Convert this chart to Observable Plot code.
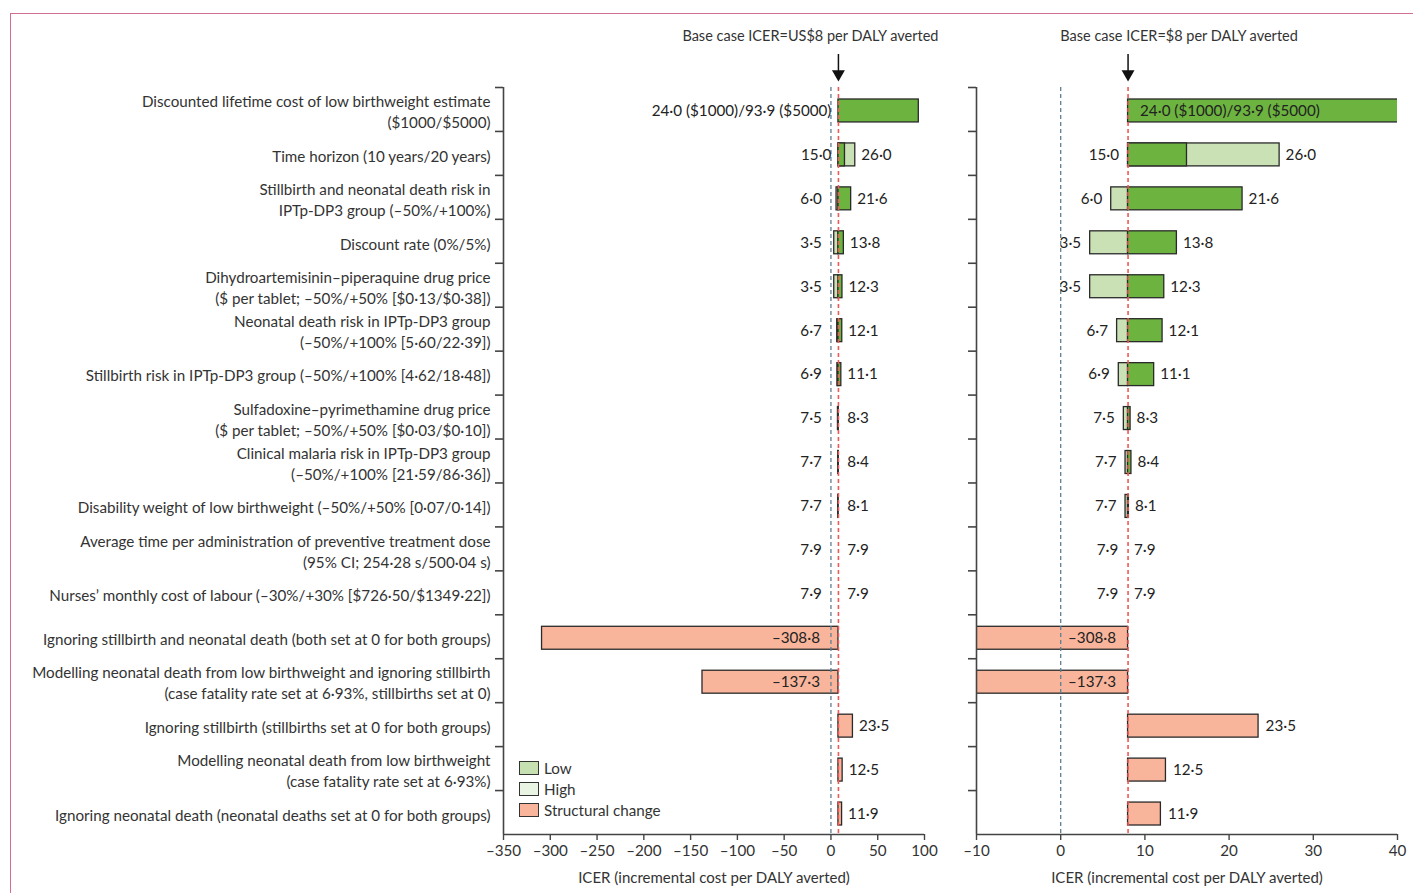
<!DOCTYPE html>
<html><head><meta charset="utf-8">
<script src="https://cdn.jsdelivr.net/npm/d3@7"></script>
<script src="https://cdn.jsdelivr.net/npm/@observablehq/plot@0.6"></script>
<style>
body{margin:0;background:#fff;font-family:Lato,"Open Sans",sans-serif;color:#333;}
#wrap{position:relative;width:1413px;height:893px;overflow:hidden;background:#fff;}
#border{position:absolute;left:10px;top:13px;width:2000px;height:2000px;border-left:1.5px solid #cf6f93;border-top:1.5px solid #cf6f93;}
#left{position:absolute;left:0;top:0;}
#right{position:absolute;left:940px;top:0;}
#legend{position:absolute;left:519px;top:758px;font-size:15.2px;color:#333;}
.item{display:flex;align-items:center;height:20.7px;}
.sw{width:20px;height:14px;border:1.3px solid #333;margin-right:5px;box-sizing:border-box;}
</style></head><body>
<div id="wrap">
  <div id="border"></div>
  <div id="left"></div>
  <div id="right"></div>
  <div id="legend"></div>
</div>
<script>
// ---------------- data ----------------
const categories = [
  "Discounted lifetime cost of low birthweight estimate\n($1000/$5000)",
  "Time horizon (10 years/20 years)",
  "Stillbirth and neonatal death risk in\nIPTp-DP3 group (–50%/+100%)",
  "Discount rate (0%/5%)",
  "Dihydroartemisinin–piperaquine drug price\n($ per tablet; –50%/+50% [$0·13/$0·38])",
  "Neonatal death risk in IPTp-DP3 group\n(–50%/+100% [5·60/22·39])",
  "Stillbirth risk in IPTp-DP3 group (–50%/+100% [4·62/18·48])",
  "Sulfadoxine–pyrimethamine drug price\n($ per tablet; –50%/+50% [$0·03/$0·10])",
  "Clinical malaria risk in IPTp-DP3 group\n(–50%/+100% [21·59/86·36])",
  "Disability weight of low birthweight (–50%/+50% [0·07/0·14])",
  "Average time per administration of preventive treatment dose\n(95% CI; 254·28 s/500·04 s)",
  "Nurses’ monthly cost of labour (–30%/+30% [$726·50/$1349·22])",
  "Ignoring stillbirth and neonatal death (both set at 0 for both groups)",
  "Modelling neonatal death from low birthweight and ignoring stillbirth\n(case fatality rate set at 6·93%, stillbirths set at 0)",
  "Ignoring stillbirth (stillbirths set at 0 for both groups)",
  "Modelling neonatal death from low birthweight\n(case fatality rate set at 6·93%)",
  "Ignoring neonatal death (neonatal deaths set at 0 for both groups)"
];
const baseCase = 8;
// sensitivity results (first and second value shown on each row)
const lowResult  = [24.0, 15.0, 6.0, 3.5, 3.5, 6.7, 6.9, 7.5, 7.7, 7.7, 7.9, 7.9, null, null, null, null, null];
const highResult = [93.9, 26.0, 21.6, 13.8, 12.3, 12.1, 11.1, 8.3, 8.4, 8.1, 7.9, 7.9, null, null, null, null, null];
const firstRowNotes = ["($1000)", "($5000)"];
// bar segments as drawn (light green drawn first, dark green over it)
const lightBarEnd = [null, 26.0, 6.0, 3.5, 3.5, 6.7, 6.9, 7.5, 7.7, 7.7, null, null, null, null, null, null, null];
const darkBarEnd  = [93.9, 15.0, 21.6, 13.8, 12.3, 12.1, 11.1, 8.3, 8.4, 8.1, null, null, null, null, null, null, null];
// structural change results
const structuralResult = [null, null, null, null, null, null, null, null, null, null, null, null, -308.8, -137.3, 23.5, 12.5, 11.9];
// axis ticks
const leftTicks = [-350, -300, -250, -200, -150, -100, -50, 0, 50, 100];
const rightTicks = [-10, 0, 10, 20, 30, 40];
const legendItems = ["Low", "High", "Structural change"];
const axisTitle = "ICER (incremental cost per DALY averted)";
const leftHeader = "Base case ICER=US$8 per DALY averted";
const rightHeader = "Base case ICER=$8 per DALY averted";

// ---------------- styles ----------------
const DARK = "#6cb33f", LIGHT = "#c9e1b5", SALMON = "#f9b59b";
const LEG_LOW = "#c6e0b2", LEG_HIGH = "#e9f4e2";
const INK = "#333", AXIS = "#444";
const FS = 15.2, FS_HEAD = 14.5, FS_TITLE = 15;
const TOP = 87, BOTTOM = 834, H = 893;
const ROW_DY = 1.5;

const rows = categories.map((cat, i) => ({
  cat, i, low: lowResult[i], high: highResult[i],
  light: lightBarEnd[i], dark: darkBarEnd[i], struct: structuralResult[i]
}));

const fmt = v => d3.format(".1f")(v).replace(".", "·").replace("−", "–").replace("-", "–");

function labelsFor(panel) {
  const out = [];
  for (const d of rows) {
    if (d.low != null) {
      if (d.i === 0) {
        const t = `${fmt(d.low)} ${firstRowNotes[0]}/${fmt(d.high)} ${firstRowNotes[1]}`;
        if (panel === "L") out.push({cat: d.cat, x: baseCase, dx: -7, a: "end", t});
        else out.push({cat: d.cat, x: baseCase, dx: 12, a: "start", t});
        continue;
      }
      const lo = Math.min(d.low, d.high), hi = Math.max(d.low, d.high);
      if (panel === "L") {
        if (lo >= baseCase) out.push({cat: d.cat, x: baseCase, dx: -7, a: "end", t: fmt(d.low)});
        else out.push({cat: d.cat, x: 0, dx: -9, a: "end", t: fmt(d.low)});
        out.push({cat: d.cat, x: Math.max(hi, 11), dx: 6, a: "start", t: fmt(d.high)});
      } else {
        out.push({cat: d.cat, x: Math.min(lo, baseCase), dx: -9, a: "end", t: fmt(d.low)});
        out.push({cat: d.cat, x: Math.max(hi, baseCase), dx: 6, a: "start", t: fmt(d.high)});
      }
    } else if (d.struct != null) {
      const v = d.struct;
      if (v < 0) {
        if (panel === "L") out.push({cat: d.cat, x: 0, dx: -11, a: "end", t: fmt(v)});
        else out.push({cat: d.cat, x: baseCase, dx: -12, a: "end", t: fmt(v)});
      } else {
        if (panel === "L") out.push({cat: d.cat, x: Math.max(v, 11), dx: 6, a: "start", t: fmt(v)});
        else out.push({cat: d.cat, x: v, dx: 7, a: "start", t: fmt(v)});
      }
    }
  }
  return out;
}

function textGroups(labels) {
  const groups = d3.groups(labels, d => d.dx + "|" + d.a);
  return groups.map(([k, arr]) => Plot.text(arr, {
    x: "x", y: "cat", text: "t", dx: arr[0].dx, dy: ROW_DY, textAnchor: arr[0].a,
    fill: "#222", fontSize: FS
  }));
}

function fmtTick(d) { return String(d).replace("-", "–"); }

function panel({domain, ticks, width, marginLeft, marginRight, showLabels, header, headerDx, panelId}) {
  const step = (BOTTOM - TOP) / categories.length;
  const xmin = domain[0], xmax = domain[1];
  const inset = 10.5;
  const barOpts = {y: "cat", x1: () => baseCase, stroke: "#2a2a2a", strokeWidth: 1.3,
    insetTop: inset + ROW_DY, insetBottom: inset - ROW_DY, clip: true};
  const marks = [
    // bars
    Plot.barX(rows.filter(d => d.light != null), {...barOpts, x2: "light", fill: LIGHT}),
    Plot.barX(rows.filter(d => d.dark != null), {...barOpts, x2: "dark", fill: DARK}),
    Plot.barX(rows.filter(d => d.struct != null), {...barOpts, x2: "struct", fill: SALMON}),
    // reference lines
    Plot.ruleX([0], {stroke: "#5e7f93", strokeDasharray: "4,3", strokeWidth: 1.3}),
    Plot.ruleX([baseCase], {stroke: "#ee5a55", strokeDasharray: "4,3", strokeWidth: 1.6}),
    // value labels
    ...textGroups(labelsFor(panelId)),
    // axes lines
    Plot.ruleX([xmin], {stroke: AXIS, strokeWidth: 1.6}),
    Plot.ruleY([categories[categories.length - 1]], {x1: () => xmin, x2: () => xmax, dy: step / 2, stroke: AXIS, strokeWidth: 1.6}),
    Plot.ruleY(categories, {x1: () => xmin, x2: () => xmin, insetLeft: -8, dy: -step / 2, stroke: AXIS, strokeWidth: 1.6}),
    Plot.axisX(ticks, {tickFormat: fmtTick, tickSize: 6, tickPadding: 5, fontSize: FS, label: null, stroke: AXIS, strokeWidth: 1.4, fill: INK}),
    Plot.text([axisTitle], {frameAnchor: "bottom", lineAnchor: "middle", dy: 44, fontSize: FS_TITLE, fill: INK}),
    // header + arrow
    Plot.text([header], {x: () => baseCase, frameAnchor: "top", lineAnchor: "middle", dy: -51, dx: headerDx, fontSize: FS_HEAD, fill: INK}),
    Plot.ruleX([baseCase], {insetTop: -33, insetBottom: BOTTOM - 73, stroke: "#111", strokeWidth: 1.5}),
    Plot.dot([baseCase], {x: d => d, frameAnchor: "top", dy: -13.5, symbol: "triangle", r: 4.8, fill: "#111", stroke: null, rotate: 180})
  ];
  if (showLabels) {
    marks.push(Plot.text(categories, {y: d => d, text: d => d, frameAnchor: "left", dx: -13, dy: ROW_DY,
      textAnchor: "end", lineAnchor: "middle", lineHeight: 1.38, fontSize: FS, fill: INK}));
  }
  return Plot.plot({
    width, height: H, marginTop: TOP, marginBottom: H - BOTTOM, marginLeft, marginRight,
    style: {fontFamily: "Lato, 'Open Sans', sans-serif", fontSize: FS + "px", color: INK, background: "transparent"},
    x: {domain, axis: null},
    y: {type: "band", domain: categories, padding: 0, round: false, axis: null},
    marks
  });
}

document.getElementById("left").appendChild(panel({
  domain: [-350, 100], ticks: leftTicks, width: 940, marginLeft: 503, marginRight: 16,
  showLabels: true, header: leftHeader, headerDx: -28, panelId: "L"
}));
document.getElementById("right").appendChild(panel({
  domain: [-10, 40], ticks: rightTicks, width: 473, marginLeft: 36, marginRight: 16,
  showLabels: false, header: rightHeader, headerDx: 51, panelId: "R"
}));

// legend
const legColors = [LEG_LOW, LEG_HIGH, SALMON];
const leg = document.getElementById("legend");
legendItems.forEach((name, i) => {
  const it = document.createElement("div"); it.className = "item";
  const sw = document.createElement("div"); sw.className = "sw"; sw.style.background = legColors[i];
  const tx = document.createElement("span"); tx.textContent = name;
  it.appendChild(sw); it.appendChild(tx); leg.appendChild(it);
});
</script>
</body></html>
